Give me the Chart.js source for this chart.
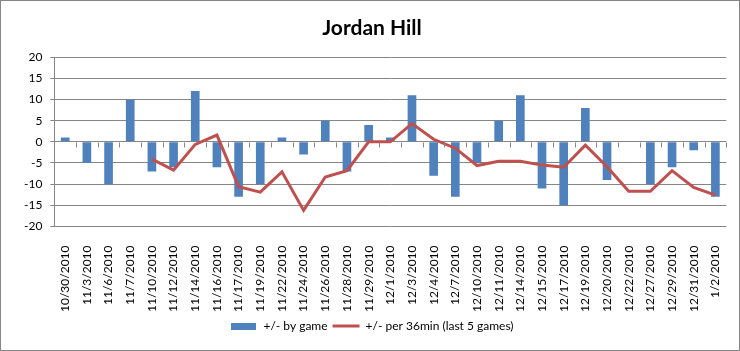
<!DOCTYPE html>
<html>
<head>
<meta charset="utf-8">
<script src="https://cdn.jsdelivr.net/npm/chart.js@4.4.1/dist/chart.umd.min.js"></script>
<style>
  html, body { margin: 0; padding: 0; background: #fff; }
  #wrap { position: relative; width: 740px; height: 351px; box-sizing: border-box; border: 1px solid #868686; }
  canvas { position: absolute; left: 0; top: 0; }
</style>
</head>
<body>
<div id="wrap"><canvas id="chart" width="740" height="351"></canvas></div>
<script>
// game dates
var dates = ['10/30/2010', '11/3/2010', '11/6/2010', '11/7/2010', '11/10/2010', '11/12/2010',
  '11/14/2010', '11/16/2010', '11/17/2010', '11/19/2010', '11/22/2010', '11/24/2010',
  '11/26/2010', '11/28/2010', '11/29/2010', '12/1/2010', '12/3/2010', '12/4/2010',
  '12/7/2010', '12/10/2010', '12/11/2010', '12/14/2010', '12/15/2010', '12/17/2010',
  '12/19/2010', '12/20/2010', '12/22/2010', '12/27/2010', '12/29/2010', '12/31/2010', '1/2/2010'];

// +/- by game
var byGame = [1, -5, -10, 10, -7, -6, 12, -6, -13, -10, 1, -3, 5, -7, 4, 1, 11, -8,
  -13, -5, 5, 11, -11, -15, 8, -9, 0, -10, -6, -2, -13];

// +/- per 36min, rolling last 5 games (no value for first four)
var per36 = [null, null, null, null, -4.1, -6.7, -0.6, 1.6, -10.6, -11.9, -7.1, -16.2,
  -8.3, -6.8, 0, 0, 4.3, 0.6, -1.5, -5.6, -4.6, -4.6, -5.5, -6, -0.8, -5.9,
  -11.7, -11.7, -6.8, -10.8, -12.6];

var yTicks = [-20, -15, -10, -5, 0, 5, 10, 15, 20];

var BLUE = '#4F81BD';
var RED = '#C0504D';
var GRID = '#868686';
var FONT = 'Lato, "Open Sans", sans-serif';

// wide rectangle used as the legend swatch for the bars
var swatch = document.createElement('canvas');
swatch.width = 25; swatch.height = 7;
var sctx = swatch.getContext('2d');
sctx.fillStyle = BLUE;
sctx.fillRect(0, 0, 25, 7);

// small tick marks on the zero line between categories
var zeroTicks = {
  id: 'zeroTicks',
  afterDatasetsDraw: function (chart) {
    var x = chart.scales.x, y = chart.scales.y;
    var y0 = Math.round(y.getPixelForValue(0)) + 0.5;
    var half = (x.getPixelForValue(1) - x.getPixelForValue(0)) / 2;
    var ctx = chart.ctx;
    ctx.save();
    ctx.strokeStyle = GRID;
    ctx.lineWidth = 1;
    ctx.beginPath();
    for (var i = 0; i <= dates.length; i++) {
      var px = Math.round(x.getPixelForValue(i) - half) + 0.5;
      ctx.moveTo(px, y0);
      ctx.lineTo(px, y0 + 5);
    }
    ctx.stroke();
    ctx.restore();
  }
};

new Chart(document.getElementById('chart'), {
  data: {
    labels: dates,
    datasets: [
      {
        type: 'line',
        label: '+/- per 36min (last 5 games)',
        data: per36,
        borderColor: RED,
        backgroundColor: RED,
        borderWidth: 3,
        pointRadius: 0,
        tension: 0,
        spanGaps: false,
        pointStyle: 'line',
        order: 1
      },
      {
        type: 'bar',
        label: '+/- by game',
        data: byGame,
        backgroundColor: BLUE,
        barPercentage: 0.4,
        categoryPercentage: 1,
        pointStyle: swatch,
        order: 2
      }
    ]
  },
  options: {
    responsive: false,
    animation: false,
    layout: { padding: { left: 15, right: 13, top: 4, bottom: 10 } },
    plugins: {
      title: {
        display: true,
        text: 'Jordan Hill',
        color: '#000',
        font: { family: FONT, size: 21, weight: 'bold' },
        padding: { top: 11, bottom: 16 }
      },
      legend: {
        position: 'bottom',
        reverse: true,
        labels: {
          color: '#000',
          font: { family: FONT, size: 12 },
          usePointStyle: true,
          pointStyleWidth: 27,
          boxHeight: 7,
          padding: 5
        }
      },
      tooltip: { enabled: false }
    },
    scales: {
      x: {
        grid: { display: false },
        border: { display: false },
        afterFit: function (axis) { axis.height -= 8; },
        ticks: {
          color: '#000',
          font: { family: FONT, size: 12 },
          minRotation: 90,
          maxRotation: 90,
          autoSkip: false,
          padding: 11
        }
      },
      y: {
        min: -20,
        max: 20,
        afterBuildTicks: function (axis) {
          axis.ticks = yTicks.map(function (v) { return { value: v }; });
        },
        grid: { color: GRID, tickLength: 4 },
        border: { display: true, color: GRID },
        ticks: {
          color: '#000',
          font: { family: FONT, size: 12 },
          padding: 8
        }
      }
    }
  },
  plugins: [zeroTicks]
});
</script>
</body>
</html>
